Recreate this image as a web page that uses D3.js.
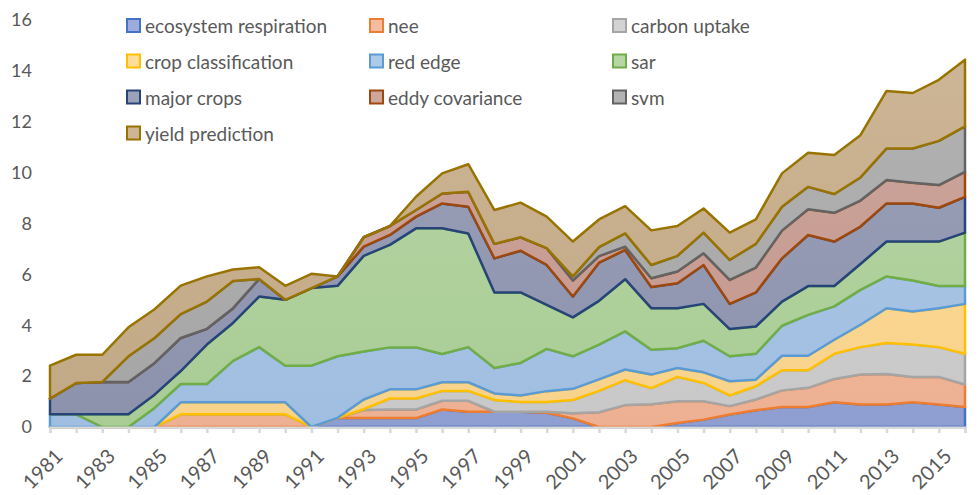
<!DOCTYPE html>
<html>
<head>
<meta charset="utf-8">
<script src="https://cdn.jsdelivr.net/npm/d3@7"></script>
<style>
body { margin: 0; background: #fff; }
#chart text { font-family: Lato, "Open Sans", sans-serif; fill: #595959; }
</style>
</head>
<body>
<div id="chart"></div>
<script>
var years = [1981, 1982, 1983, 1984, 1985, 1986, 1987, 1988, 1989, 1990, 1991, 1992,
	1993, 1994, 1995, 1996, 1997, 1998, 1999, 2000, 2001, 2002, 2003, 2004,
	2005, 2006, 2007, 2008, 2009, 2010, 2011, 2012, 2013, 2014, 2015, 2016];

var ecosystemRespiration = [0,0,0,0,0,0,0,0,0,0,0,0.36,0.35,0.35,0.35,0.69,0.6,0.6,0.6,0.56,0.34,0,0,0,0.16,0.29,0.49,0.66,0.79,0.79,0.97,0.88,0.88,0.97,0.88,0.79];
var nee = [0,0,0,0,0,0.5,0.5,0.5,0.5,0.5,0,0,0.32,0.34,0.34,0.34,0.43,0,0,0.04,0.2,0.58,0.86,0.89,0.85,0.72,0.33,0.42,0.65,0.75,0.92,1.18,1.2,1.0,1.09,0.88];
var carbonUptake = [0,0,0,0,0,0,0,0,0,0,0,0,0.03,0.43,0.43,0.39,0.39,0.46,0.38,0.38,0.52,0.84,0.98,0.64,0.96,0.72,0.42,0.52,0.79,0.69,0.99,1.08,1.22,1.27,1.17,1.21];
var cropClassification = [0,0,0,0,0,0.47,0.47,0.47,0.47,0.47,0,0,0.38,0.36,0.36,0.34,0.34,0.26,0.26,0.43,0.44,0.45,0.42,0.53,0.35,0.42,0.56,0.26,0.57,0.57,0.55,0.88,1.37,1.3,1.53,1.96];
var redEdge = [0.5,0.5,0,0,0.75,0.72,0.72,1.63,2.17,1.44,2.41,2.42,1.89,1.65,1.65,1.11,1.38,1.0,1.28,1.66,1.28,1.37,1.5,0.98,0.78,1.24,0.98,1.02,1.18,1.61,1.31,1.37,1.25,1.22,0.87,0.7];
var sar = [0,0,0.5,0.5,0.52,0.51,1.55,1.49,1.99,2.59,3.05,2.77,3.76,4.03,4.68,4.94,4.47,2.97,2.77,1.73,1.53,1.72,2.05,1.63,1.57,1.45,1.07,1.07,0.95,1.13,0.8,1.02,1.37,1.53,1.75,2.1];
var majorCrops = [0.62,1.23,1.27,1.27,1.25,1.3,0.62,0.58,0.69,0,0,0.37,0.36,0.39,0.46,0.98,1.05,1.34,1.64,1.57,0.82,1.5,1.15,0.83,0.98,1.53,0.99,1.34,1.7,2.01,1.75,1.47,1.5,1.5,1.33,1.41];
var eddyCovariance = [0,0,0,0,0,0,0,0,0,0,0,0,0.37,0.35,0.26,0.39,0.59,0.57,0.53,0.66,0.63,0.26,0.13,0.35,0.46,0.46,0.94,0.98,1.09,1.01,1.13,1.02,0.92,0.81,0.89,0.98];
var svm = [0,0,0,1.01,0.98,0.94,1.07,1.07,0,0,0,0,0,0,0,0,0,0,0,0,0.16,0.35,0.52,0.52,0.62,0.81,0.79,0.93,0.94,0.88,0.74,0.91,1.24,1.35,1.74,1.79];
var yieldPrediction = [1.29,1.11,1.07,1.14,1.13,1.12,0.99,0.45,0.46,0.55,0.56,0,0,0,0.52,0.79,1.08,1.33,1.36,1.24,1.37,1.09,1.07,1.36,1.17,0.95,1.07,0.96,1.31,1.34,1.53,1.66,2.26,2.18,2.4,2.62];

var seriesNames = ["ecosystem respiration", "nee", "carbon uptake", "crop classification",
	"red edge", "sar", "major crops", "eddy covariance", "svm", "yield prediction"];
var seriesValues = [ecosystemRespiration, nee, carbonUptake, cropClassification,
	redEdge, sar, majorCrops, eddyCovariance, svm, yieldPrediction];
var lineColors = ["#4472c4", "#ed7d31", "#a5a5a5", "#ffc000", "#5b9bd5",
	"#70ad47", "#264478", "#9e480e", "#636363", "#997300"];
var fillColors = ["#92a3d6", "#f4b597", "#cecece", "#ffd88f", "#a5c4e7",
	"#aed29a", "#9097b1", "#c99c91", "#aaaaaa", "#c7ad89"];
var yTicks = [0, 2, 4, 6, 8, 10, 12, 14, 16];

window.onload = function()
{
	DrawChart();
}

function DrawChart()
{
	var width = 980;
	var height = 495;
	var left = 50, right = 965, top = 20, bottom = 427;

	var rows = [];
	for(var i = 0; i < years.length; i++)
	{
		var row = { "year": years[i] };
		for(var s = 0; s < seriesNames.length; s++)
			row[seriesNames[s]] = seriesValues[s][i];
		rows.push(row);
	}

	var stacked = d3.stack().keys(seriesNames)(rows);

	var x = d3.scaleLinear()
		.domain([years[0], years[years.length - 1]])
		.range([left, right]);

	var y = d3.scaleLinear()
		.domain([0, 16])
		.range([bottom, top]);

	var svg = d3.select("#chart").append("svg")
		.attr("width", width)
		.attr("height", height);

	/* gradients, lighter at the top of the plot */
	var defs = svg.append("defs");
	seriesNames.forEach(function(name, i) {
		var grad = defs.append("linearGradient")
			.attr("id", "grad" + i)
			.attr("gradientUnits", "userSpaceOnUse")
			.attr("x1", 0).attr("x2", 0)
			.attr("y1", top).attr("y2", bottom);
		grad.append("stop").attr("offset", "0%")
			.attr("stop-color", d3.interpolateRgb(fillColors[i], "#ffffff")(0.12));
		grad.append("stop").attr("offset", "100%")
			.attr("stop-color", d3.interpolateRgb(fillColors[i], "#000000")(0.03));
	});

	var area = d3.area()
		.x(function(d) { return x(d.data.year); })
		.y0(function(d) { return y(d[0]); })
		.y1(function(d) { return y(d[1]); });

	svg.append("g")
		.attr("class", "areas")
		.selectAll("path")
		.data(stacked).enter()
		.append("path")
		.attr("d", area)
		.attr("fill", function(d, i) { return "url(#grad" + i + ")"; })
		.attr("stroke", function(d, i) { return lineColors[i]; })
		.attr("stroke-width", 2.5)
		.attr("stroke-linejoin", "round");

	/* x axis */
	var xAxis = d3.axisBottom(x)
		.tickValues(years)
		.tickSize(6)
		.tickPadding(4)
		.tickFormat(function(d) { return (d - 1981) % 2 == 0 ? String(d) : ""; });

	var gx = svg.append("g")
		.attr("class", "x axis")
		.attr("transform", "translate(0," + bottom + ")")
		.call(xAxis);

	gx.select(".domain")
		.attr("stroke", "#d9d9d9")
		.attr("stroke-width", 2.25);
	gx.selectAll(".tick line")
		.attr("stroke", "#d9d9d9")
		.attr("stroke-width", 2.5);
	gx.selectAll(".tick text")
		.attr("font-size", 20)
		.attr("text-anchor", "end")
		.attr("dy", null)
		.attr("y", 0)
		.attr("transform", "translate(10,27) rotate(-45)")
		.attr("dominant-baseline", "middle");

	/* y axis */
	var yAxis = d3.axisLeft(y)
		.tickValues(yTicks)
		.tickSize(0)
		.tickPadding(18);

	var gy = svg.append("g")
		.attr("class", "y axis")
		.attr("transform", "translate(" + left + ",0)")
		.call(yAxis);

	gy.select(".domain").remove();
	gy.selectAll(".tick text")
		.attr("font-size", 18);

	/* legend */
	var legend = svg.append("g").attr("class", "legend");
	var colX = [126, 369, 612];
	var rowY = [25.5, 61, 97, 133];

	var items = legend.selectAll("g")
		.data(seriesNames).enter()
		.append("g")
		.attr("transform", function(d, i) {
			return "translate(" + colX[i % 3] + "," + rowY[Math.floor(i / 3)] + ")";
		});

	items.append("rect")
		.attr("x", 1)
		.attr("y", -6.5)
		.attr("width", 13)
		.attr("height", 13)
		.attr("fill", function(d, i) { return d3.interpolateRgb(fillColors[i], "#ffffff")(0.1); })
		.attr("stroke", function(d, i) { return lineColors[i]; })
		.attr("stroke-width", 2);

	items.append("text")
		.attr("x", 19)
		.attr("y", 0)
		.attr("dominant-baseline", "central")
		.attr("font-size", 19)
		.text(function(d) { return d; });
}
</script>
</body>
</html>
